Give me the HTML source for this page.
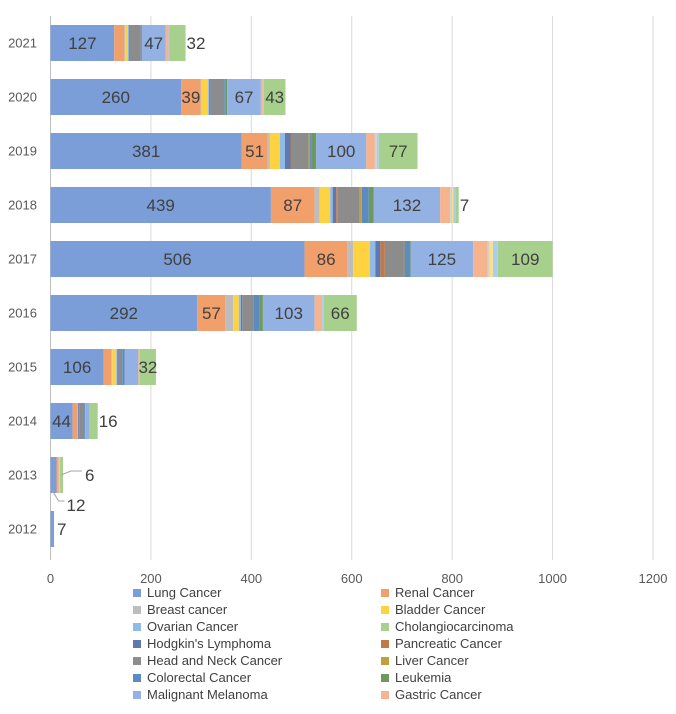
<!DOCTYPE html>
<html><head><meta charset="utf-8"><style>
body{margin:0;background:#fff;font-family:"Liberation Sans",sans-serif;}
svg text{font-family:"Liberation Sans",sans-serif;}
</style></head><body>
<svg id="chart" width="676" height="709" xmlns="http://www.w3.org/2000/svg"></svg>
<script>
const years = ["2021","2020","2019","2018","2017","2016","2015","2014","2013","2012"];
const seriesNames = ["Lung Cancer","Renal Cancer","Breast cancer","Bladder Cancer","Ovarian Cancer","Hodgkin's Lymphoma","Pancreatic Cancer","Head and Neck Cancer","Liver Cancer","Colorectal Cancer","Leukemia","Malignant Melanoma","Gastric Cancer","Other A","Other B","Other C","Cholangiocarcinoma"];
const lung       = [127,260,381,439,506,292,106,44,12,7];
const renal      = [20,39,51,87,86,57,15,9,2,0];
const breast     = [2,2,5,10,11,15,2,2,0,0];
const bladder    = [5,13,20,21,33,11,8,0,0,0];
const ovarian    = [2,2,10,5,11,4,2,0,0,0];
const hodgkin    = [2,3,11,7,10,3,3,2,0,0];
const pancreatic = [0,0,2,2,9,0,0,0,0,0];
const headNeck   = [22,27,34,45,38,22,7,10,0,0];
const liver      = [0,0,3,4,1,0,0,0,0,0];
const colorectal = [2,3,3,14,9,12,5,2,0,0];
const leukemia   = [0,3,9,10,3,7,0,0,0,0];
const melanoma   = [47,67,100,132,125,103,27,9,0,0];
const gastric    = [6,4,17,20,29,15,3,0,3,0];
const otherA     = [0,0,4,4,4,0,0,0,2,0];
const otherB     = [0,0,0,2,6,0,0,0,0,0];
const otherC     = [2,2,4,4,10,3,0,0,0,0];
const cholangio  = [32,43,77,7,109,66,32,16,6,0];
const xTicks = [0,200,400,600,800,1000,1200];
const cholOutside = ["2021","2018","2014"];

const series = [lung,renal,breast,bladder,ovarian,hodgkin,pancreatic,headNeck,liver,colorectal,leukemia,melanoma,gastric,otherA,otherB,otherC,cholangio];
const colors = ["#7b9ed8","#f1a06c","#bdbdbd","#ffd33f","#8fbbe6","#5f78b0","#c07a4a","#8c8c8c","#bfa040","#5b8bc0","#6d9a5c","#94b1e3","#f5b48e","#d0d0d0","#ffe07a","#a9cdef","#a8d08d"];

const NS="http://www.w3.org/2000/svg";
const svg=document.getElementById('chart');
function mk(tag,attrs,parent){const e=document.createElementNS(NS,tag);for(const k in attrs)e.setAttribute(k,attrs[k]);(parent||svg).appendChild(e);return e;}
const x0=50.5, xMax=1200, xW=602.5;
const xs=v=>x0+v/xMax*xW;
const yTop=16, band=54, barH=36;
const yc=i=>yTop+band/2+i*band;

// gridlines and ticks
xTicks.forEach(t=>{
  const g=mk('line',{x1:xs(t),x2:xs(t),y1:16,y2:560,stroke:t===0?'#bfbfbf':'#d9d9d9','stroke-width':1});
  
  
  const tl=mk('text',{x:xs(t),y:583,'text-anchor':'middle','font-size':13,fill:'#595959'});
  tl.textContent=t;
  
  
});

years.forEach((yr,i)=>{
  const c=yc(i);
  const yl=mk('text',{x:37,y:c+4.5,'text-anchor':'end','font-size':13,fill:'#595959'});
  yl.textContent=yr;
  
  
  let acc=0;
  series.forEach((s,k)=>{
    const v=s[i]; if(!v){return;}
    const xa=xs(acc), xb=xs(acc+v);
    const r=mk('rect',{x:xa,y:c-barH/2,width:xb-xa,height:barH,fill:colors[k]});
    
    
    let show=false, lx=(xa+xb)/2, anchor='middle', ly=c+6;
    if(k===0) show=true;
    if(k===1 && v>=30) show=true;
    if(k===11 && v>=40) show=true;
    if(k===16) show=true;
    if(k===16 && cholOutside.includes(yr)){lx=xb+1;anchor='start';}
    if(k===0 && v<20 && yr!=="2013"){lx=xb+3;anchor='start';}
    if(yr==="2013"){
      if(k===0){show=true;lx=xs(acc)+16;ly=c+36;anchor='start';
        mk('polyline',{points:`${xa+1},${c+14} ${xa+8},${c+26} ${xa+14},${c+26}`,fill:'none',stroke:'#a6a6a6','stroke-width':1});}
      if(k===16){lx=xb+22;ly=c+6;anchor='start';
        mk('polyline',{points:`${xb-2},${c} ${xb+8},${c-4} ${xb+19},${c-4}`,fill:'none',stroke:'#a6a6a6','stroke-width':1});}
    }
    if(show){
      const t=mk('text',{x:lx,y:ly,'text-anchor':anchor,'font-size':17,fill:'#404040'});
      t.textContent=v;
      
      
    }
    acc+=v;
  });
});

// legend
const legendOrder=[0,1,2,3,4,16,5,6,7,8,9,10,11,12];
legendOrder.forEach((k,j)=>{
  const col=j%2, row=Math.floor(j/2);
  const lx=col===0?133:381, ly=597+row*17;
  const g=mk('g',{});
  
  
  mk('rect',{x:lx,y:ly-8,width:8,height:8,fill:colors[k]},g);
  const t=mk('text',{x:lx+14,y:ly,'font-size':13,fill:'#404040'},g);
  t.textContent=seriesNames[k];
});
</script>
</body></html>
